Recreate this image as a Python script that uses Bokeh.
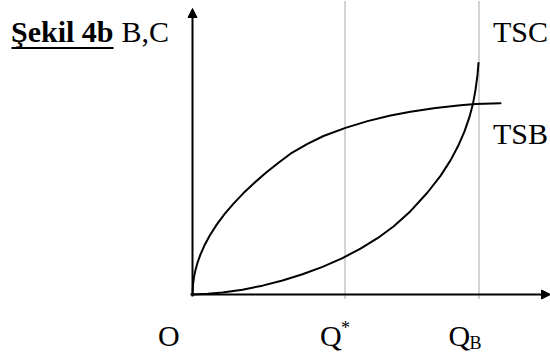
from bokeh.plotting import figure
from bokeh.models import Range1d, Arrow, NormalHead
from bokeh.core.properties import value
from bokeh.embed import file_html
from bokeh.resources import INLINE

# ---- data (units measured from the origin O) ----
tsb_x = [0, 0.5, 1.5, 3, 5, 8, 12, 17, 24, 32, 41, 51, 62, 74, 86, 98, 115, 131, 153, 175, 198, 218, 243, 268, 283, 308]
tsb_y = [0, 10, 17.4, 24.6, 31.8, 40.2, 49.2, 58.5, 69.6, 80.3, 90.9, 101.4, 111.8, 122.2, 131.7, 140.8, 150.6, 158.5, 166.6, 173.4, 179, 182.8, 186.5, 189.2, 190.5, 191.3]

tsc_x = [0, 15, 30, 50, 70, 90, 110, 130, 150, 168, 185, 201, 218, 235, 248, 258, 266, 272, 277, 280.5, 283, 285, 286]
tsc_y = [0, 0.7, 2.05, 4.85, 8.85, 14.05, 20.25, 27.65, 36.45, 45.8, 56.3, 68, 83.3, 102, 118.6, 134.1, 149.3, 163.1, 177.6, 190.9, 204.6, 219.6, 231.6]

q_star = 152
q_b = 286
x_axis_end = 358
y_axis_end = 286

curve_labels = ["TSC", "TSB"]
title_text = "Şekil 4b"
y_label = "B,C"

# ---- layout helpers: reference pixel -> data ----
OX, OY = 192, 294
def X(px):
    return px - OX
def Y(py):
    return OY - py

FONT = "Liberation Serif"
FS = 30
SNAP = 0.5  # half-pixel offset so 1px dotted lines render crisp

p = figure(width=550, height=356, output_backend="svg", toolbar_location=None,
           x_axis_type=None, y_axis_type=None, min_border=0,
           x_range=Range1d(X(0), X(550)), y_range=Range1d(Y(356), Y(0)))
p.outline_line_color = None
p.background_fill_color = "white"
p.border_fill_color = "white"

# dotted guide lines
gx = [q_star + SNAP, q_b + SNAP]
p.segment(x0=gx, y0=[Y(298)] * 2, x1=gx, y1=[Y(0)] * 2,
          line_color="#555555", line_width=1, line_dash="1 1")

# axes with arrows
p.add_layout(Arrow(end=NormalHead(size=9, fill_color="black", line_color="black", line_width=1),
                   x_start=X(190), y_start=0, x_end=x_axis_end, y_end=0,
                   line_width=2, line_color="black"))
p.add_layout(Arrow(end=NormalHead(size=9, fill_color="black", line_color="black", line_width=1),
                   x_start=0, y_start=Y(296), x_end=0, y_end=y_axis_end,
                   line_width=2, line_color="black"))

# curves
p.line(tsb_x, tsb_y, line_color="black", line_width=2, line_join="round", line_cap="round")
p.line(tsc_x, tsc_y, line_color="black", line_width=2, line_join="round", line_cap="round")

def lab(text, x, base_py, size=FS, style="normal"):
    # the svg renderer places the alphabetic baseline ~0.41 em low; compensate
    y = Y(base_py - 0.41 * size)
    p.text(x=[x], y=[y], text=[text], text_font=value(FONT), text_font_size=f"{size}px",
           text_font_style=style, text_color="black",
           text_align="left", text_baseline="alphabetic")

# title and y label
lab(title_text, X(10.5), 43, style="bold")
p.segment(x0=[X(11)], y0=[Y(47.5)], x1=[X(113)], y1=[Y(47.5)], line_color="black", line_width=2)
lab(y_label, X(121), 43)

# curve labels
lab(curve_labels[0], X(492.5), 43)
lab(curve_labels[1], X(492.5), 145)

# x labels
lab("O", X(157.5), 347.5)
lab("Q", q_star - 24.5, 347.5)
lab("*", q_star - 3.5, 334.5, size=18)
lab("Q", q_b - 30, 347.5)
lab("B", q_b - 9, 349.5, size=18)

open("out.html", "w").write(file_html(p, INLINE))
